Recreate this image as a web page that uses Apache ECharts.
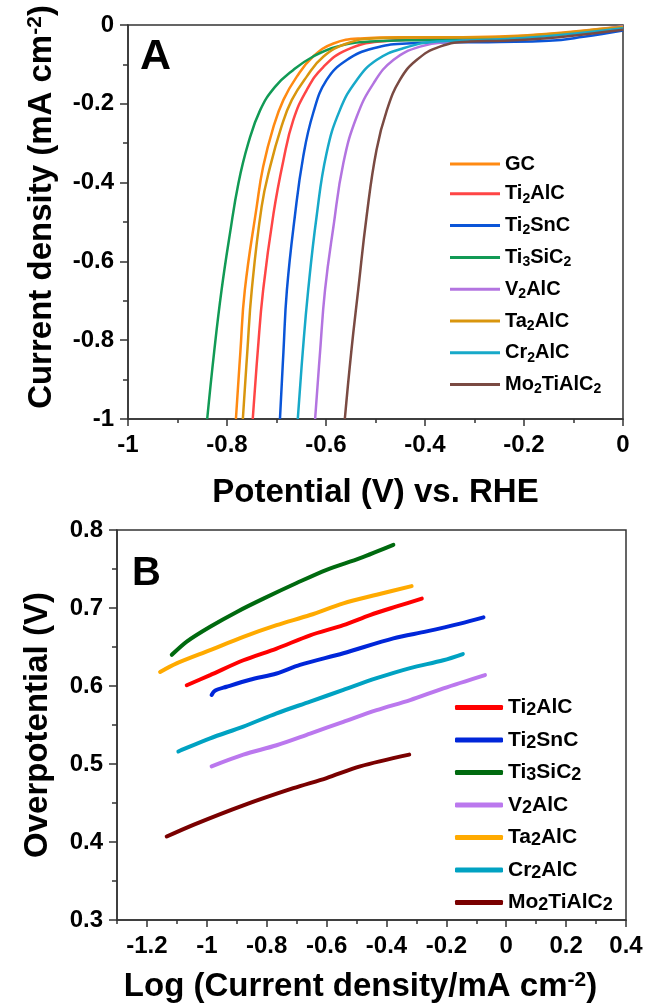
<!DOCTYPE html>
<html><head><meta charset="utf-8">
<script src="https://cdn.jsdelivr.net/npm/echarts@6/dist/echarts.min.js"></script>
<style>html,body{margin:0;padding:0;background:#fff}#c{width:646px;height:1007px}</style>
</head><body><div id="c"></div>
<script>
// ---------- Panel A: LSV curves [potential (V vs RHE), current density (mA cm-2)] ----------
const lsvNames = ['GC','Ti2AlC','Ti2SnC','Ti3SiC2','V2AlC','Ta2AlC','Cr2AlC','Mo2TiAlC2'];
const lsvColors = ['#FF8A12','#FF4545','#0A55D8','#119A55','#B374E0','#D9960E','#17A9C9','#7A4A42'];
const lsvGC = [[-0.782,-1],[-0.773,-0.83],[-0.764,-0.673],[-0.740,-0.461],[-0.727,-0.360],[-0.706,-0.258],[-0.686,-0.190],[-0.659,-0.131],[-0.626,-0.080],[-0.585,-0.047],[-0.531,-0.034],[-0.45,-0.031],[-0.35,-0.031],[-0.25,-0.029],[-0.15,-0.022],[-0.05,-0.010],[0,-0.004]];
const lsvTi2AlC = [[-0.748,-1],[-0.738,-0.83],[-0.727,-0.673],[-0.706,-0.478],[-0.686,-0.343],[-0.666,-0.241],[-0.639,-0.165],[-0.605,-0.106],[-0.558,-0.063],[-0.491,-0.042],[-0.40,-0.037],[-0.30,-0.036],[-0.20,-0.030],[-0.10,-0.020],[0,-0.007]];
const lsvTi2SnC = [[-0.693,-1],[-0.686,-0.83],[-0.679,-0.673],[-0.663,-0.486],[-0.646,-0.334],[-0.626,-0.224],[-0.599,-0.140],[-0.558,-0.089],[-0.504,-0.059],[-0.437,-0.047],[-0.35,-0.044],[-0.25,-0.043],[-0.15,-0.040],[-0.08,-0.030],[0,-0.014]];
const lsvTi3SiC2 = [[-0.840,-1],[-0.826,-0.83],[-0.811,-0.673],[-0.794,-0.529],[-0.777,-0.402],[-0.757,-0.300],[-0.733,-0.216],[-0.703,-0.157],[-0.666,-0.114],[-0.626,-0.080],[-0.578,-0.055],[-0.511,-0.042],[-0.40,-0.038],[-0.30,-0.036],[-0.20,-0.030],[-0.10,-0.020],[0,-0.008]];
const lsvV2AlC = [[-0.622,-1],[-0.612,-0.83],[-0.602,-0.673],[-0.585,-0.512],[-0.565,-0.351],[-0.538,-0.233],[-0.504,-0.148],[-0.464,-0.089],[-0.410,-0.055],[-0.343,-0.042],[-0.27,-0.038],[-0.18,-0.030],[-0.09,-0.018],[0,-0.004]];
const lsvTa2AlC = [[-0.768,-1],[-0.759,-0.83],[-0.750,-0.673],[-0.730,-0.461],[-0.713,-0.360],[-0.690,-0.258],[-0.669,-0.190],[-0.639,-0.131],[-0.605,-0.080],[-0.558,-0.047],[-0.504,-0.034],[-0.42,-0.032],[-0.32,-0.032],[-0.22,-0.029],[-0.12,-0.020],[-0.05,-0.011],[0,-0.005]];
const lsvCr2AlC = [[-0.657,-1],[-0.647,-0.83],[-0.636,-0.673],[-0.619,-0.486],[-0.599,-0.326],[-0.572,-0.216],[-0.538,-0.140],[-0.498,-0.089],[-0.444,-0.059],[-0.376,-0.042],[-0.30,-0.039],[-0.20,-0.033],[-0.10,-0.022],[0,-0.008]];
const lsvMo2TiAlC2 = [[-0.562,-1],[-0.549,-0.83],[-0.535,-0.673],[-0.518,-0.486],[-0.498,-0.317],[-0.477,-0.216],[-0.451,-0.140],[-0.417,-0.089],[-0.370,-0.055],[-0.309,-0.042],[-0.24,-0.040],[-0.16,-0.034],[-0.08,-0.024],[0,-0.012]];
const lsvData = [lsvGC,lsvTi2AlC,lsvTi2SnC,lsvTi3SiC2,lsvV2AlC,lsvTa2AlC,lsvCr2AlC,lsvMo2TiAlC2];

// ---------- Panel B: Tafel plots [log(current density), overpotential (V)] ----------
const tafelNames = ['Ti2AlC','Ti2SnC','Ti3SiC2','V2AlC','Ta2AlC','Cr2AlC','Mo2TiAlC2'];
const tafelColors = ['#FF0000','#0026D9','#006A0F','#BB78EE','#FFAA00','#00A2C2','#7A0000'];
const tafelTi2AlC = [[-1.067,0.601],[-0.989,0.614],[-0.878,0.633],[-0.767,0.648],[-0.655,0.665],[-0.544,0.678],[-0.455,0.691],[-0.366,0.702],[-0.282,0.712]];
const tafelTi2SnC = [[-0.984,0.5885],[-0.973,0.594],[-0.934,0.599],[-0.856,0.608],[-0.767,0.616],[-0.689,0.627],[-0.544,0.642],[-0.377,0.661],[-0.266,0.670],[-0.154,0.680],[-0.076,0.688]];
const tafelTi3SiC2 = [[-1.117,0.640],[-1.067,0.657],[-0.989,0.676],[-0.900,0.695],[-0.811,0.712],[-0.700,0.732],[-0.600,0.749],[-0.488,0.764],[-0.377,0.781]];
const tafelV2AlC = [[-0.984,0.497],[-0.878,0.512],[-0.767,0.524],[-0.655,0.539],[-0.544,0.554],[-0.433,0.569],[-0.321,0.582],[-0.210,0.597],[-0.071,0.614]];
const tafelTa2AlC = [[-1.156,0.618],[-1.101,0.629],[-0.989,0.646],[-0.878,0.663],[-0.767,0.678],[-0.655,0.691],[-0.544,0.706],[-0.433,0.717],[-0.316,0.728]];
const tafelCr2AlC = [[-1.095,0.516],[-1.084,0.518],[-0.989,0.533],[-0.878,0.548],[-0.767,0.565],[-0.655,0.580],[-0.544,0.595],[-0.433,0.610],[-0.321,0.623],[-0.210,0.633],[-0.145,0.641]];
const tafelMo2TiAlC2 = [[-1.134,0.407],[-1.045,0.422],[-0.878,0.447],[-0.711,0.469],[-0.600,0.482],[-0.488,0.497],[-0.324,0.512]];
const tafelData = [tafelTi2AlC,tafelTi2SnC,tafelTi3SiC2,tafelV2AlC,tafelTa2AlC,tafelCr2AlC,tafelMo2TiAlC2];

// tick values
const xTicksB = [-1.2,-1,-0.8,-0.6,-0.4,-0.2,0,0.2,0.4];
const xMinorTicksB = [-1.3,-1.1,-0.9,-0.7,-0.5,-0.3,-0.1,0.1,0.3];

const FONT = '"Liberation Sans", Arial, sans-serif';
const AX = '#333';
const tickLabel = {fontFamily: FONT, fontWeight: 'bold', fontSize: 24, color: '#000'};
const nameStyle = (pad) => ({fontFamily: FONT, fontWeight: 'bold', fontSize: 33, color: '#000', padding: pad,
  rich: {sup: {fontFamily: FONT, fontWeight: 'bold', fontSize: 21, lineHeight: 18, verticalAlign: 'top', color: '#000'}}});

function subRich(name) {
  const n = name.replace('_B', '');
  return '{m|' + n.replace(/(\d)/g, '}{s|$1}{m|') + '}';
}

const chart = echarts.init(document.getElementById('c'), null, {renderer: 'canvas'});
const series = [];
lsvNames.forEach((n, i) => series.push({
  name: n, type: 'line', xAxisIndex: 0, yAxisIndex: 0, data: lsvData[i], symbol: 'none', showSymbol: false,
  smooth: 0.45, lineStyle: {width: 2.5, color: lsvColors[i]}, itemStyle: {color: lsvColors[i]}, silent: true, z: 3
}));
tafelNames.forEach((n, i) => series.push({
  name: n + '_B', type: 'line', xAxisIndex: 1, yAxisIndex: 1, data: tafelData[i], symbol: 'none', showSymbol: false,
  smooth: 0.3, lineStyle: {width: 4, color: tafelColors[i], cap: 'round'}, itemStyle: {color: tafelColors[i]}, silent: true, z: 3
}));

chart.setOption({
  animation: false,
  backgroundColor: '#fff',
  grid: [
    {left: 128, top: 25, width: 495, height: 394, show: true, borderColor: AX, borderWidth: 1.5},
    {left: 117, top: 530, width: 509, height: 390, show: true, borderColor: AX, borderWidth: 1.5}
  ],
  xAxis: [
    {type: 'value', gridIndex: 0, min: -1, max: 0, interval: 0.2, position: 'bottom',
     name: 'Potential (V) vs. RHE', nameLocation: 'middle', nameGap: 57, nameTextStyle: nameStyle([0,0,0,0]),
     axisLine: {show: true, onZero: false, lineStyle: {color: AX, width: 1.5}},
     axisTick: {show: true, inside: false, length: 7, lineStyle: {color: AX, width: 1.5}},
     minorTick: {show: true, splitNumber: 2, length: 4, lineStyle: {color: AX, width: 1.5}},
     axisLabel: Object.assign({margin: 14}, tickLabel), splitLine: {show: false}},
    {type: 'value', gridIndex: 1, min: -1.3, max: 0.4, position: 'bottom',
     name: 'Log (Current density/mA cm{sup|-2})', nameLocation: 'middle', nameGap: 50, nameTextStyle: nameStyle([0,22,0,0]),
     axisLine: {show: true, onZero: false, lineStyle: {color: AX, width: 1.5}},
     axisTick: {show: true, inside: false, length: 7, customValues: xTicksB, lineStyle: {color: AX, width: 1.5}},
     axisLabel: Object.assign({margin: 14, customValues: xTicksB}, tickLabel), splitLine: {show: false}},
    {type: 'value', gridIndex: 1, min: -1.3, max: 0.4, position: 'bottom', offset: 0,
     axisLine: {show: false},
     axisTick: {show: true, inside: false, length: 4, customValues: xMinorTicksB, lineStyle: {color: AX, width: 1.5}},
     axisLabel: {show: false}, splitLine: {show: false}}
  ],
  yAxis: [
    {type: 'value', gridIndex: 0, min: -1, max: 0, interval: 0.2,
     name: 'Current density (mA cm{sup|-2})', nameLocation: 'middle', nameGap: 70, nameTextStyle: nameStyle([0,0,0,30]),
     axisLine: {show: true, onZero: false, lineStyle: {color: AX, width: 1.5}},
     axisTick: {show: true, inside: false, length: 8, lineStyle: {color: AX, width: 1.5}},
     minorTick: {show: true, splitNumber: 2, length: 5, lineStyle: {color: AX, width: 1.5}},
     axisLabel: Object.assign({margin: 14}, tickLabel), splitLine: {show: false}},
    {type: 'value', gridIndex: 1, min: 0.3, max: 0.8, interval: 0.1,
     name: 'Overpotential (V)', nameLocation: 'middle', nameGap: 63, nameTextStyle: nameStyle([0,0,0,0]),
     axisLine: {show: true, onZero: false, lineStyle: {color: AX, width: 1.5}},
     axisTick: {show: true, inside: false, length: 8, lineStyle: {color: AX, width: 1.5}},
     minorTick: {show: true, splitNumber: 2, length: 5, lineStyle: {color: AX, width: 1.5}},
     axisLabel: Object.assign({margin: 14, formatter: v => v.toFixed(1)}, tickLabel), splitLine: {show: false}}
  ],
  legend: [
    {orient: 'vertical', left: 445, top: 149, itemWidth: 50, itemHeight: 3, itemGap: 9.8, icon: 'rect',
     selectedMode: false, data: lsvNames, formatter: subRich,
     textStyle: {rich: {
       m: {fontFamily: FONT, fontWeight: 'bold', fontSize: 20, lineHeight: 24, color: '#000'},
       s: {fontFamily: FONT, fontWeight: 'bold', fontSize: 14, lineHeight: 10, verticalAlign: 'bottom', color: '#000'}}}},
    {orient: 'vertical', left: 450, top: 692, itemWidth: 48, itemHeight: 5, itemGap: 10, icon: 'roundRect',
     selectedMode: false, data: tafelNames.map(n => n + '_B'), formatter: subRich,
     textStyle: {rich: {
       m: {fontFamily: FONT, fontWeight: 'bold', fontSize: 21, lineHeight: 24, color: '#000'},
       s: {fontFamily: FONT, fontWeight: 'bold', fontSize: 18, lineHeight: 12, verticalAlign: 'bottom', color: '#000'}}}}
  ],
  graphic: [
    {type: 'text', left: 140, top: 36, style: {text: 'A', font: 'bold 43px ' + FONT, fill: '#000'}},
    {type: 'text', left: 132, top: 554, style: {text: 'B', font: 'bold 40px ' + FONT, fill: '#000'}}
  ],
  series: series
});
</script>
</body></html>
